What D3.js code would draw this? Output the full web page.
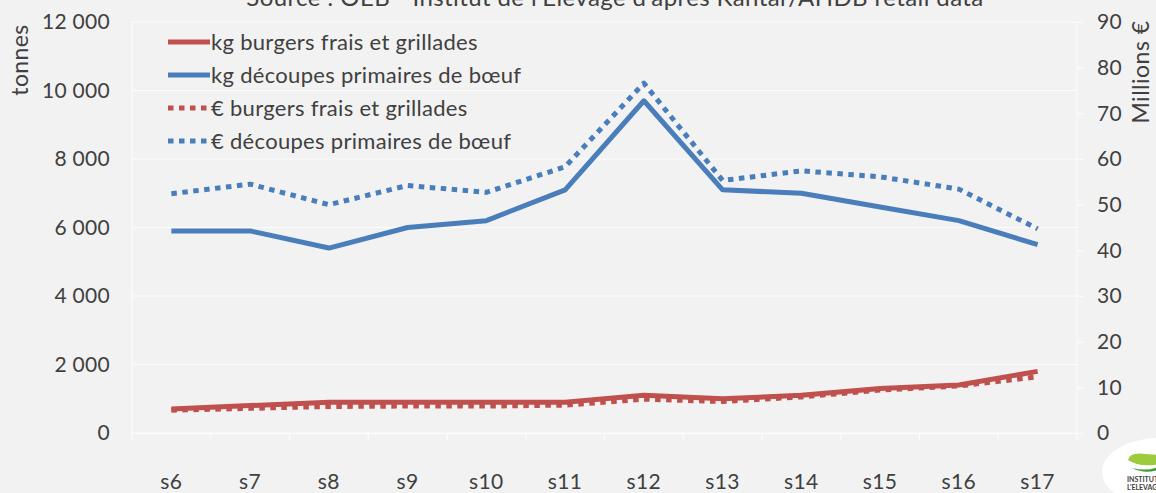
<!DOCTYPE html>
<html><head><meta charset="utf-8">
<script src="https://cdn.jsdelivr.net/npm/d3@7"></script>
<style>
html,body{margin:0;padding:0;background:#f2f2f2;}
svg{display:block;}
text{font-family:"Lato","Open Sans",sans-serif;fill:#404040;}
</style></head><body>
<script>
const categories = ["s6","s7","s8","s9","s10","s11","s12","s13","s14","s15","s16","s17"];
const kgBurgers = [700, 800, 900, 900, 900, 900, 1100, 1000, 1100, 1300, 1400, 1800];
const kgDecoupes = [5900, 5900, 5400, 6000, 6200, 7100, 9700, 7100, 7000, 6600, 6200, 5500];
const eurBurgers = [5.0, 5.4, 5.8, 5.9, 5.9, 6.1, 7.4, 6.9, 7.9, 9.4, 10.3, 12.3];
const eurDecoupes = [52.4, 54.5, 50.0, 54.2, 52.7, 58.3, 76.6, 55.3, 57.4, 56.1, 53.4, 44.7];
const leftTicks = [0, 2000, 4000, 6000, 8000, 10000, 12000];
const rightTicks = [0, 10, 20, 30, 40, 50, 60, 70, 80, 90];
const title = "Source : OEB - Institut de l'Elevage d'après Kantar/AHDB retail data";
const seriesNames = ["kg burgers frais et grillades","kg découpes primaires de bœuf","€ burgers frais et grillades","€ découpes primaires de bœuf"];

const W = 1156, H = 493;
const red = "#c0504d", blue = "#4a7ebb";
const svg = d3.select("body").append("svg").attr("width", W).attr("height", H);
const m = {l:132, r:1077, t:22, b:433};

const x = d3.scaleBand().domain(categories).range([m.l, m.r]);
const yL = d3.scaleLinear().domain([0, 12000]).range([m.b, m.t]);
const yR = d3.scaleLinear().domain([0, 90]).range([m.b, m.t]);

// title (cut at top, as in the reference)
svg.append("text").attr("x", 615).attr("y", 6).attr("text-anchor","middle")
  .style("font-size","24px").style("letter-spacing","0.4px").text(title);

// gridlines
svg.append("g").selectAll("line").data(leftTicks).join("line")
  .attr("x1", m.l).attr("x2", m.r).attr("y1", d=>yL(d)).attr("y2", d=>yL(d))
  .attr("stroke", "#fcfcfc").attr("stroke-width", 1.2);
svg.append("line").attr("x1",m.l).attr("x2",m.l).attr("y1",m.t).attr("y2",m.b).attr("stroke","#fcfcfc");
svg.append("line").attr("x1",m.r).attr("x2",m.r).attr("y1",m.t).attr("y2",m.b).attr("stroke","#fcfcfc");

// left axis
const gL = svg.append("g").attr("transform", `translate(${m.l},0)`)
  .call(d3.axisLeft(yL).tickValues(leftTicks).tickSize(0).tickPadding(22)
    .tickFormat(d => d3.format(",")(d).replace(/,/g, " ")));
gL.select(".domain").remove();
gL.selectAll("text").style("font-size","21px").style("letter-spacing","0.3px").attr("fill","#404040");

// right axis
const gR = svg.append("g").attr("transform", `translate(${m.r},0)`)
  .call(d3.axisRight(yR).tickValues(rightTicks).tickSize(6).tickPadding(14));
gR.select(".domain").remove();
gR.selectAll("line").attr("stroke","#fcfcfc").attr("stroke-width",1.2);
gR.selectAll("text").style("font-size","21px").style("letter-spacing","0.3px").attr("fill","#404040");

// bottom axis
const gB = svg.append("g").attr("transform", `translate(0,${m.b})`)
  .call(d3.axisBottom(x).tickSize(0).tickPadding(41));
gB.select(".domain").attr("stroke","#fcfcfc").attr("stroke-width",1.2);
gB.selectAll("text").style("font-size","21px").style("letter-spacing","0.4px").attr("fill","#404040");
const bounds = categories.map(c => x(c)).concat([m.r]);
gB.append("g").selectAll("line").data(bounds).join("line")
  .attr("x1", d=>d).attr("x2", d=>d).attr("y1", 0).attr("y2", 8)
  .attr("stroke","#fcfcfc").attr("stroke-width",1.2);

// axis titles
svg.append("text").attr("transform","translate(28,60) rotate(-90)").attr("text-anchor","middle")
  .style("font-size","23px").style("letter-spacing","0.4px").text("tonnes");
svg.append("text").attr("transform","translate(1149,72) rotate(-90)").attr("text-anchor","middle")
  .style("font-size","23px").style("letter-spacing","0.5px").text("Millions €");

// lines
const cx = c => x(c) + x.bandwidth()/2;
const lineL = d3.line().x((d,i)=>cx(categories[i])).y(d=>yL(d));
const lineR = d3.line().x((d,i)=>cx(categories[i])).y(d=>yR(d));
const series = [
  {data: kgDecoupes, gen: lineL, color: blue, dash: null},
  {data: eurDecoupes, gen: lineR, color: blue, dash: "5.5,5.5"},
  {data: eurBurgers, gen: lineR, color: red, dash: "5.5,5.5"},
  {data: kgBurgers, gen: lineL, color: red, dash: null},
];
series.forEach(s => {
  svg.append("path").datum(s.data).attr("d", s.gen).attr("fill","none")
    .attr("stroke", s.color).attr("stroke-width", 5)
    .attr("stroke-linejoin","round")
    .attr("stroke-dasharray", s.dash);
});

// legend
const leg = [
  {name: seriesNames[0], color: red, dash: null},
  {name: seriesNames[1], color: blue, dash: null},
  {name: seriesNames[2], color: red, dash: "5.5,5.5"},
  {name: seriesNames[3], color: blue, dash: "5.5,5.5"},
];
const lg = svg.append("g");
leg.forEach((d,i) => {
  const yy = 42 + i*33;
  lg.append("line").attr("x1",168).attr("x2",210).attr("y1",yy).attr("y2",yy)
    .attr("stroke",d.color).attr("stroke-width",5).attr("stroke-dasharray",d.dash);
  lg.append("text").attr("x",211).attr("y",yy).attr("dy","0.35em")
    .style("font-size","22px").style("letter-spacing","0.3px").text(d.name);
});

// logo (partial, bottom-right)
const logo = svg.append("g");
logo.append("ellipse").attr("cx",1160).attr("cy",472).attr("rx",58).attr("ry",34).attr("fill","#ffffff");
logo.append("path").attr("d","M1128,460 Q1130,452 1145,454 L1160,455 L1160,464 Q1140,468 1128,460 Z").attr("fill","#9ccb3b");
logo.append("path").attr("d","M1132,468 Q1148,472 1160,466 L1160,469 Q1146,475 1132,468 Z").attr("fill","#3f9e3a");
logo.append("text").attr("x",1127).attr("y",482).style("font-size","7px").style("font-weight","bold").attr("fill","#1f5fa6").text("INSTITUT DE");
logo.append("text").attr("x",1127).attr("y",490).style("font-size","7px").style("font-weight","bold").attr("fill","#1f5fa6").text("L'ELEVAGE");
</script>
</body></html>
